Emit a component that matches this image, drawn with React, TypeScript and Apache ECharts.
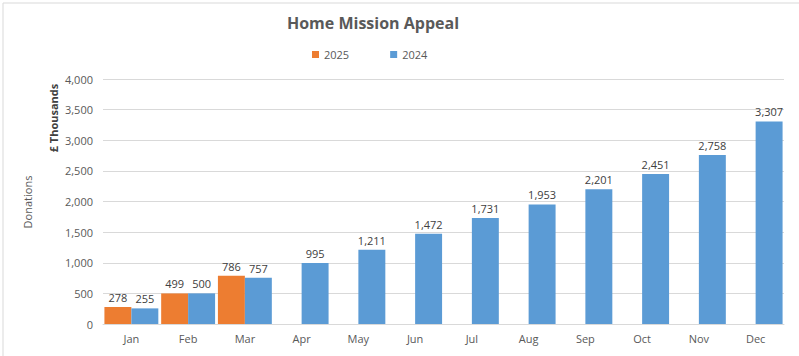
import React, { useEffect, useRef } from "react";
import * as echarts from "echarts";

const categories = ["Jan", "Feb", "Mar", "Apr", "May", "Jun", "Jul", "Aug", "Sep", "Oct", "Nov", "Dec"];
const values2025: (number | null)[] = [278, 499, 786, null, null, null, null, null, null, null, null, null];
const values2024: number[] = [255, 500, 757, 995, 1211, 1472, 1731, 1953, 2201, 2451, 2758, 3307];
const yTicks = { min: 0, max: 4000, interval: 500 };

const FONT = "'Open Sans', 'Noto Sans', sans-serif";
const TXT = "#595959";

export default function App() {
  const ref = useRef<HTMLDivElement>(null);
  useEffect(() => {
    if (!ref.current) return;
    const chart = echarts.init(ref.current, undefined, { renderer: "svg" });
    const fmt = (v: number) => v.toLocaleString("en-US");
    chart.setOption({
      animation: false,
      backgroundColor: "#ffffff",
      textStyle: { fontFamily: FONT },
      title: {
        text: "Home Mission Appeal",
        left: 368,
        top: 10,
        textAlign: "center",
        textStyle: { fontFamily: FONT, fontSize: 16, fontWeight: "bold", color: TXT },
      },
      legend: {
        top: 44,
        left: 307,
        itemGap: 41,
        itemWidth: 7,
        itemHeight: 7,
        icon: "rect",
        textStyle: { fontFamily: FONT, fontSize: 11, color: TXT },
        data: ["2025", "2024"],
      },
      grid: { left: 103, right: 15, top: 79, bottom: 32, containLabel: false },
      xAxis: {
        type: "category",
        data: categories,
        axisLine: { lineStyle: { color: "#d9d9d9" } },
        axisTick: { show: false },
        axisLabel: { color: TXT, fontFamily: FONT, fontSize: 11, margin: 9 },
      },
      yAxis: {
        type: "value",
        min: yTicks.min,
        max: yTicks.max,
        interval: yTicks.interval,
        axisLine: { show: false },
        axisTick: { show: false },
        splitLine: { lineStyle: { color: "#d9d9d9" } },
        axisLabel: { color: TXT, fontFamily: FONT, fontSize: 11, margin: 10, formatter: fmt },
      },
      series: [
        {
          name: "2025",
          type: "bar",
          data: values2025,
          itemStyle: { color: "#ED7D31" },
          barGap: "0%",
          barCategoryGap: "5%",
          label: {
            show: true,
            position: "top",
            distance: 4,
            color: "#404040",
            fontFamily: FONT,
            fontSize: 11,
            formatter: (p: any) => fmt(p.value),
          },
        },
        {
          name: "2024",
          type: "bar",
          data: values2024,
          itemStyle: { color: "#5B9BD5" },
          barGap: "0%",
          barCategoryGap: "5%",
          label: {
            show: true,
            position: "top",
            distance: 4,
            color: "#404040",
            fontFamily: FONT,
            fontSize: 11,
            formatter: (p: any) => fmt(p.value),
          },
        },
      ],
      graphic: [
        {
          type: "rect",
          left: 0.5,
          top: 0.5,
          shape: { x: 0.5, y: 0.5, width: 797, height: 354 },
          style: { fill: "none", stroke: "#d9d9d9", lineWidth: 1 },
          silent: true,
        },
        {
          type: "text",
          x: 53,
          y: 118,
          rotation: Math.PI / 2,
          style: {
            text: "£ Thousands",
            fill: "#404040",
            font: `bold 11px ${FONT}`,
            align: "center",
            verticalAlign: "middle",
          },
        },
        {
          type: "text",
          x: 27,
          y: 202,
          rotation: Math.PI / 2,
          style: {
            text: "Donations",
            fill: TXT,
            font: `11px ${FONT}`,
            align: "center",
            verticalAlign: "middle",
          },
        },
      ],
    });
    return () => chart.dispose();
  }, []);
  return (
    <div
      ref={ref}
      style={{ position: "fixed", left: 0, top: 0, width: 799, height: 356 }}
    />
  );
}
